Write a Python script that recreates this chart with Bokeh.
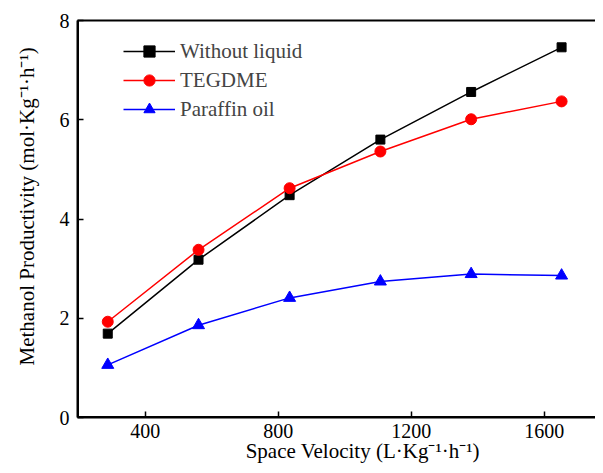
from bokeh.plotting import figure
from bokeh.models import Range1d, LinearAxis, FixedTicker, Legend, LegendItem
from bokeh.embed import file_html
from bokeh.resources import INLINE

space_velocity = [287, 560, 834, 1107, 1380, 1652]
without_liquid = [1.69, 3.18, 4.48, 5.60, 6.56, 7.46]
tegdme = [1.93, 3.38, 4.62, 5.36, 6.01, 6.37]
paraffin_oil = [1.06, 1.86, 2.41, 2.74, 2.89, 2.86]

x_ticks = [400, 800, 1200, 1600]
y_ticks = [0, 2, 4, 6, 8]

# en-space padding only shifts the titles to sit where the reference has them
x_title = "\u2002" * 5 + "Space Velocity (L·Kg⁻¹·h⁻¹)"
y_title = "\u2002\u2002\u2009" + "Methanol Productivity (mol·Kg⁻¹·h⁻¹)"

FONT = "Liberation Serif"
X0, X1 = 196, 1754
Y0, Y1 = 0, 8

p = figure(width=595, height=465, output_backend="svg", toolbar_location=None,
           x_range=Range1d(X0, X1), y_range=Range1d(Y0, Y1),
           min_border_left=77, min_border_right=0, min_border_top=20, min_border_bottom=48)
p.outline_line_color = None
p.background_fill_color = None
p.border_fill_color = None
p.xgrid.visible = False
p.ygrid.visible = False

for ax in (p.xaxis[0], p.yaxis[0]):
    ax.major_tick_in = 6
    ax.major_tick_out = 0
    ax.minor_tick_line_color = None
    ax.axis_line_color = "black"
    ax.axis_line_width = 2
    ax.major_tick_line_color = "black"
    ax.major_tick_line_width = 1.5
    ax.major_label_text_font = FONT
    ax.major_label_text_font_size = "20px"
    ax.major_label_text_color = "black"
    ax.axis_label_text_font = FONT
    ax.axis_label_text_font_size = "21px"
    ax.axis_label_text_font_style = "normal"
    ax.axis_label_text_color = "black"

p.xaxis[0].ticker = FixedTicker(ticks=x_ticks)
p.yaxis[0].ticker = FixedTicker(ticks=y_ticks)
p.xaxis[0].axis_label = x_title
p.yaxis[0].axis_label = y_title
p.xaxis[0].major_label_standoff = 6
p.yaxis[0].major_label_standoff = 8
p.xaxis[0].axis_label_standoff = -2
p.yaxis[0].axis_label_standoff = 18

top = LinearAxis(ticker=FixedTicker(ticks=[]), major_tick_in=0, major_tick_out=0,
                 minor_tick_line_color=None, major_label_text_font_size="0px",
                 axis_line_width=2, axis_line_color="black")
p.add_layout(top, "above")

# frame spines along the left and bottom range edges
p.line([X0, X1], [Y0, Y0], line_color="black", line_width=3)
p.line([X0, X0], [Y0, Y1], line_color="black", line_width=3)

series = [
    ("Without liquid", without_liquid, "#000000", "square", 9),
    ("TEGDME", tegdme, "#ff0000", "circle", 11),
    ("Paraffin oil", paraffin_oil, "#0000ff", "triangle", 12),
]

items = []
for name, ys, color, marker, size in series:
    ln = p.line(space_velocity, ys, line_color=color, line_width=1.5)
    mk = p.scatter(space_velocity, ys, marker=marker, size=size,
                   fill_color=color, line_color=color)
    items.append(LegendItem(label=name, renderers=[ln, mk]))

legend = Legend(items=items, location=(46, 294), padding=0, spacing=1,
                glyph_width=52, glyph_height=28, label_height=28,
                label_standoff=5, label_text_font=FONT, label_text_font_size="21px",
                border_line_color=None, background_fill_alpha=0)
p.add_layout(legend, "center")

open("out.html", "w").write(file_html(p, INLINE))
